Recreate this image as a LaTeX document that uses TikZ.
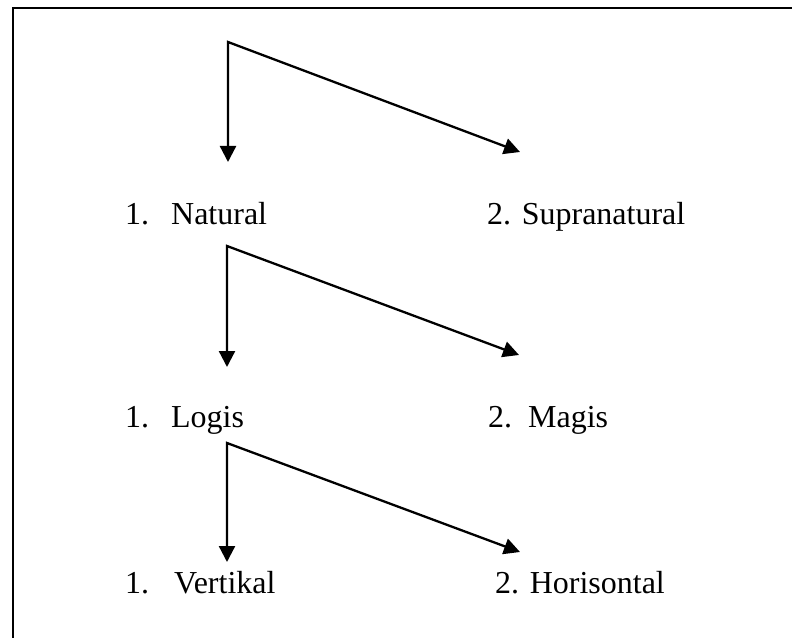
\documentclass[tikz,border=0pt]{standalone}
\usepackage{fontspec}
\setmainfont{Liberation Serif}
\usetikzlibrary{arrows.meta}

\tikzset{
	branch/.style={line width=2.3bp, {Triangle[length=16bp,width=16bp]}-{Triangle[length=16bp,width=16bp]}},
	item/.style={anchor=base west, inner sep=0pt, font=\fontsize{32.1}{38}\selectfont},
}

\begin{document}
\begin{tikzpicture}[x=1bp, y=-1bp]
	\useasboundingbox (0,0) rectangle (792,638);
	\draw[line width=2.3bp] (13,638) -- (13,8) -- (792,8);
	% first split
	\coordinate (fork1) at (228,42);
	\coordinate (down1) at (228,162);
	\coordinate (side1) at (520,152);
	\draw[branch] (down1) -- (fork1) -- (side1);
	\node[item] (natural) at (125,225) {\makebox[46bp][l]{1.}Natural};
	\node[item] (supra) at (487,225) {2. Supranatural};
	% second split
	\coordinate (fork2) at (227,246);
	\coordinate (down2) at (227,367);
	\coordinate (side2) at (519,355);
	\draw[branch] (down2) -- (fork2) -- (side2);
	\node[item] (logis) at (125,427) {\makebox[46bp][l]{1.}Logis};
	\node[item] (magis) at (488,427) {\makebox[40bp][l]{2.}Magis};
	% third split
	\coordinate (fork3) at (227,443);
	\coordinate (down3) at (227,562);
	\coordinate (side3) at (520,552);
	\draw[branch] (down3) -- (fork3) -- (side3);
	\node[item] (vertikal) at (125,593) {\makebox[49bp][l]{1.}Vertikal};
	\node[item] (horisontal) at (495,593) {2. Horisontal};
\end{tikzpicture}
\end{document}
